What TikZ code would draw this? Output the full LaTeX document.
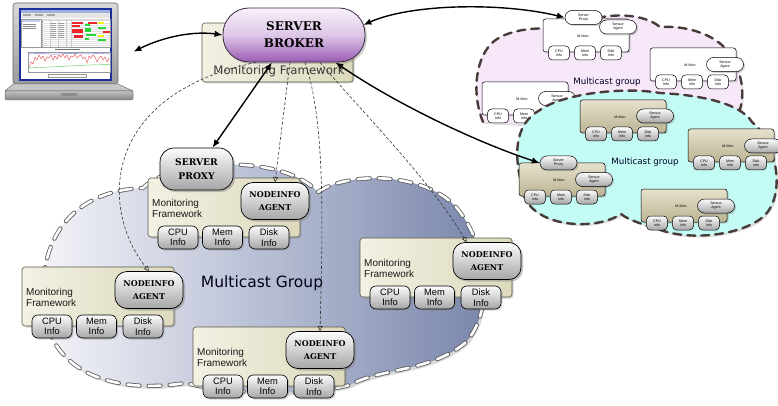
\documentclass[tikz,border=0pt]{standalone}
\usepackage{fontspec}
\setmainfont{Liberation Sans}
\newfontfamily\headfont{DejaVu Serif}
\newfontfamily\roundfont{DejaVu Sans}
\usetikzlibrary{arrows.meta,shadows,calc}

% palette
\definecolor{frameLine}{HTML}{5C5A48}
\definecolor{frameA}{HTML}{F2F1E3}
\definecolor{frameB}{HTML}{DCD9BC}
\definecolor{pillTop}{HTML}{FCFCFC}
\definecolor{pillBot}{HTML}{A6A6A6}
\definecolor{brokerTop}{HTML}{F8F1FA}
\definecolor{brokerMid}{HTML}{DDC6E7}
\definecolor{brokerBot}{HTML}{9A5CB2}
\definecolor{brokerLine}{HTML}{3A2A40}
\definecolor{cloudL}{HTML}{F4F4F8}
\definecolor{cloudM}{HTML}{B7BED4}
\definecolor{cloudR}{HTML}{7885AA}
\definecolor{cloudEdge}{HTML}{5E5E5E}
\definecolor{lav}{HTML}{F6E8F9}
\definecolor{aqua}{HTML}{C3FBF5}
\definecolor{groupDash}{HTML}{4A3B3B}
\definecolor{smTop}{HTML}{E6E1CB}
\definecolor{smBot}{HTML}{BBB494}
\definecolor{lidTop}{HTML}{D8D8D8}
\definecolor{lidBot}{HTML}{9A9A9A}
\definecolor{screenBlue}{HTML}{1D2F9E}
\definecolor{titleBlue}{HTML}{9DB0E0}
\definecolor{cellRed}{HTML}{E8262A}
\definecolor{cellGreen}{HTML}{27D83A}
\definecolor{cellYellow}{HTML}{F3F31A}
\definecolor{plotBlue}{HTML}{6A7CE0}
\definecolor{plotRed}{HTML}{E86060}
\definecolor{plotGreen}{HTML}{5CCB5C}

\tikzset{
  softshadow/.style={drop shadow={opacity=.35, shadow xshift=1.5pt, shadow yshift=-1.5pt}},
  % main monitoring groups
  mframe/.style={rectangle, draw=frameLine, line width=.6pt, rounded corners=3pt,
    minimum width=152pt, minimum height=59pt, inner sep=0,
    left color=frameA, right color=frameB, softshadow},
  mlabel/.style={font=\fontsize{10}{11}\selectfont, align=left, inner sep=0, text=black!90},
  magent/.style={rectangle, draw=black, line width=.7pt, rounded corners=12pt,
    minimum width=68pt, minimum height=37pt, inner sep=0,
    top color=pillTop, bottom color=pillBot, align=center,
    font=\headfont\bfseries\fontsize{8}{12.5}\selectfont,
    drop shadow={opacity=.45, shadow xshift=2pt, shadow yshift=-2pt}},
  minfo/.style={rectangle, draw=black, line width=.6pt, rounded corners=6pt,
    minimum width=40pt, minimum height=23pt, inner sep=0,
    top color=pillTop, bottom color=pillBot, align=center,
    font=\fontsize{9.3}{10.5}\selectfont, softshadow},
  proxy/.style={magent, rounded corners=14pt, minimum width=73pt, minimum height=42pt,
    font=\headfont\bfseries\fontsize{9.2}{14}\selectfont},
  broker/.style={rectangle, draw=brokerLine, line width=.8pt, rounded corners=26pt,
    minimum width=142pt, minimum height=54pt, inner sep=0,
    top color=brokerTop, bottom color=brokerBot, middle color=brokerMid,
    align=center, font=\headfont\bfseries\fontsize{12}{17}\selectfont,
    drop shadow={opacity=.4, shadow xshift=2pt, shadow yshift=-2pt}},
  % small monitoring groups
  sbase/.style={rectangle, draw=black, line width=.5pt, inner sep=0},
  tiny/.style={font=\fontsize{3.6}{4.2}\selectfont, align=center},
  wframe/.style={sbase, rounded corners=2.5pt, minimum width=86pt, minimum height=33pt, fill=white, softshadow},
  gframe/.style={sbase, rounded corners=2.5pt, minimum width=86pt, minimum height=33pt, top color=smTop, bottom color=smBot, softshadow},
  wpill/.style={sbase, rounded corners=7pt, minimum width=37pt, minimum height=14pt, fill=white, tiny, softshadow},
  gpill/.style={sbase, rounded corners=7pt, minimum width=37pt, minimum height=14pt, top color=pillTop, bottom color=pillBot, tiny, softshadow},
  winfo/.style={sbase, rounded corners=4pt, minimum width=21pt, minimum height=14pt, fill=white, tiny},
  ginfo/.style={sbase, rounded corners=4pt, minimum width=21pt, minimum height=14pt, top color=pillTop, bottom color=pillBot, tiny},
  % connectors
  thickarrow/.style={draw=black, line width=1.4pt,
    {Latex[length=8pt,width=6.5pt]}-{Latex[length=8pt,width=6.5pt]}},
  dashlink/.style={draw=black!80, line width=.6pt, dash pattern=on 3pt off 2pt,
    -{Triangle[open,length=5pt,width=5pt]}},
  groupline/.style={draw=groupDash, line width=2.4pt, dash pattern=on 8pt off 6pt, line cap=round},
}

% a monitoring framework with its agent and probes; #1 name, #2/#3 top-left corner
\newcommand{\mongroup}[3]{%
  \begin{scope}[shift={(#2,#3)}]
    \node[mframe] (#1-frame) at (76,29.5) {};
    \node[mlabel, anchor=west] (#1-label) at (4,30.5) {Monitoring\\Framework};
    \node[magent] (#1-agent) at (127,23) {NODEINFO\\AGENT};
    \node[minfo] (#1-cpu) at (30,59.5) {CPU\\Info};
    \node[minfo] (#1-mem) at (74.5,59.5) {Mem\\Info};
    \node[minfo] (#1-disk) at (121,59.5) {Disk\\Info};
  \end{scope}}

% a small monitor; #1 name, #2/#3 top-left, #4 agent offset, #5 look (w or g)
\newcommand{\smallgroup}[5]{%
  \begin{scope}[shift={(#2,#3)}]
    \node[#5frame] (#1-frame) at (43,16.5) {};
    \node[tiny] (#1-label) at (40,17) {M-Mon};
    \node[#5pill] (#1-agent) at (75,#4) {Sensor\\Agent};
    \node[#5info] (#1-cpu) at (16,34) {CPU\\Info};
    \node[#5info] (#1-mem) at (42,34) {Mem\\Info};
    \node[#5info] (#1-disk) at (68,34) {Disk\\Info};
  \end{scope}}

\begin{document}
\begin{tikzpicture}[x=1pt,y=-1pt]
\useasboundingbox (0,0) rectangle (778,406);

% ---------------- laptop ----------------
\node[inner sep=0, minimum width=128pt, minimum height=97pt, anchor=north west] (laptop) at (5,3) {};
\draw[draw=black!60, line width=.6pt, top color=lidTop, bottom color=lidBot, rounded corners=3pt] (13,3) rectangle (118,84);
\fill[screenBlue] (19,8) rectangle (112,81);
\fill[white] (21,10) rectangle (110,79);
\fill[titleBlue] (21,10) rectangle (110,13);
\fill[black!10] (21,13) rectangle (110,18);
\foreach \xx in {23,35,47} \fill[black!35] (\xx,14.5) rectangle ++(8,1.2);
% tree panel
\draw[black!40, line width=.3pt] (21,19) rectangle (41,47);
\fill[titleBlue!60] (22,20) rectangle (40,22);
\foreach \yy in {24.5,26.5,28.5} \draw[black!45, line width=.35pt] (23,\yy) -- (36,\yy);
% table
\draw[black!40, line width=.3pt] (42,19) rectangle (110,47);
\fill[black!15] (42,19) rectangle (110,21.5);
\foreach \yy in {23.5,25.5,...,45.5} \draw[black!12, line width=.25pt] (42,\yy) -- (110,\yy);
\foreach \xx in {50,58,66,71} \draw[black!20, line width=.25pt] (\xx,19) -- (\xx,47);
\foreach \yy in {23,25,27,29,31,33,35,37} \draw[black!40, line width=.3pt] (51,\yy) -- (56,\yy) (59,\yy) -- (64,\yy);
\fill[cellRed] (72,22) rectangle (83,24);
\fill[cellRed] (72,25) rectangle (80,27);
\fill[cellRed] (72,29) rectangle (83,33);
\fill[cellRed] (74,35) rectangle (83,38);
\fill[cellGreen] (85,24) rectangle (90,26);
\fill[cellRed] (88,22) rectangle (97,24);
\fill[cellGreen] (85,28) rectangle (91,32);
\fill[cellGreen] (86,34) rectangle (96,36);
\fill[cellGreen] (85,38) rectangle (89,40);
\fill[cellYellow] (98,22) rectangle (104,24);
\fill[cellGreen] (98,27) rectangle (106,29);
\fill[cellRed] (103,31) rectangle (110,33);
\fill[cellYellow] (98,35) rectangle (104,37);
\fill[cellGreen] (98,39) rectangle (106,41);
% chart
\draw[black!55, line width=.4pt] (55,49.5) -- (80,49.5);
\draw[black!40, line width=.3pt] (28,52) rectangle (110,72);
\draw[plotBlue, line width=.45pt] (28,54) -- (40,53.5) -- (55,54.2) -- (70,53.4) -- (85,54) -- (100,53.5) -- (110,54);
\draw[plotRed, line width=.45pt] (29,68) -- (31,62) -- (33,64) -- (35,57) -- (37,60) -- (39,55) -- (41,59) -- (43,56) -- (45,61)
  -- (47,57) -- (49,58) -- (51,55) -- (53,60) -- (55,56) -- (57,59) -- (59,55) -- (61,57) -- (63,54) -- (65,58)
  -- (67,55) -- (69,60) -- (71,56) -- (73,57) -- (75,54) -- (77,58) -- (79,56) -- (81,55) -- (83,59) -- (85,57)
  -- (87,63) -- (89,56) -- (91,58) -- (93,55) -- (95,57) -- (97,62) -- (99,58) -- (101,56) -- (103,60) -- (105,57)
  -- (107,62) -- (109,58);
\draw[plotGreen, line width=.45pt] (28,68) -- (50,67) -- (70,66) -- (90,65) -- (110,64.5);
\draw[black!40, line width=.3pt] (48,74.5) rectangle (86,77.5);
% base
\draw[draw=black!55, line width=.5pt, fill=black!22] (13,84) -- (118,84) -- (133,91) -- (5,91) -- cycle;
\draw[draw=black!55, line width=.5pt, top color=black!25, bottom color=black!48, rounded corners=2pt] (5,91) rectangle (133,100);
\fill[black!45] (61,93.5) rectangle (77,96.5);

% ---------------- main multicast group ----------------
\path[drop shadow={opacity=.3, shadow xshift=2pt, shadow yshift=-3pt},
  left color=cloudL, right color=cloudR, middle color=cloudM,
  postaction={draw=cloudEdge, line width=4.2pt, dash pattern=on 12pt off 9pt, line cap=round},
  postaction={draw=white, line width=2.6pt, dash pattern=on 12pt off 9pt, line cap=round}]
  (43,300) .. controls (40,225) and (85,190) .. (143,188)
  .. controls (170,160) and (280,152) .. (318,192)
  .. controls (350,170) and (435,172) .. (462,215)
  .. controls (490,255) and (492,315) .. (465,343)
  .. controls (430,372) and (380,368) .. (350,385)
  .. controls (300,398) and (220,392) .. (185,383)
  .. controls (110,395) and (45,370) .. (43,300) -- cycle;
\node[font=\roundfont\fontsize{15.5}{18}\selectfont, text=black!90!blue] (mclabel) at (262,283) {Multicast Group};

\mongroup{B}{22}{267}
\mongroup{C}{360}{238}
\mongroup{D}{193}{327}
\mongroup{A}{148}{178}
\node[proxy] (proxy) at (196.5,169) {SERVER\\PROXY};

% ---------------- server broker ----------------
\node[mframe, minimum width=151pt] (bframe) at (277.5,52.5) {};
\node[font=\roundfont\fontsize{11.7}{14}\selectfont, text=black!78] (blabel) at (279,71) {Monitoring Framework};
\node[broker] (broker) at (294,35) {SERVER\\BROKER};

% ---------------- remote multicast groups ----------------
\fill[lav, drop shadow={opacity=.25, shadow xshift=1.5pt, shadow yshift=-2pt}]
  (483,122) .. controls (472,95) and (475,62) .. (490,45)
  .. controls (505,28) and (545,25) .. (568,32)
  .. controls (590,12) and (640,10) .. (660,27)
  .. controls (695,25) and (725,40) .. (733,60)
  .. controls (745,80) and (745,105) .. (735,120) -- (540,125) -- cycle;
\draw[groupline]
  (483,122) .. controls (472,95) and (475,62) .. (490,45)
  .. controls (505,28) and (545,25) .. (568,32)
  .. controls (590,12) and (640,10) .. (660,27)
  .. controls (695,25) and (725,40) .. (733,60)
  .. controls (745,80) and (745,105) .. (735,120);
\node[font=\roundfont\fontsize{8.7}{10}\selectfont, text=black!85!blue] (uplabel) at (607,82) {Multicast group};

\smallgroup{U1}{543}{19}{8}{w}
\smallgroup{U2}{650}{48}{16.5}{w}
\smallgroup{U3}{482}{82}{16.5}{w}
\node[wpill] (U1-proxy) at (583.5,17.5) {Server\\Proxy};

\path[fill=aqua, drop shadow={opacity=.25, shadow xshift=1.5pt, shadow yshift=-2pt},
  postaction={groupline}]
  (520,178) .. controls (512,140) and (522,120) .. (540,110)
  .. controls (560,95) and (620,86) .. (660,93)
  .. controls (700,95) and (740,103) .. (752,122)
  .. controls (775,140) and (787,192) .. (765,215)
  .. controls (745,235) and (690,242) .. (658,229)
  .. controls (645,225) and (628,220) .. (621,214)
  .. controls (600,228) and (560,227) .. (540,214)
  .. controls (525,205) and (521,192) .. (520,178) -- cycle;
\node[font=\roundfont\fontsize{8.7}{10}\selectfont, text=black!85!blue] (lowlabel) at (645,162) {Multicast group};

\smallgroup{L1}{580}{100}{16}{g}
\smallgroup{L2}{688}{129}{17}{g}
\smallgroup{L4}{641}{189}{17}{g}
\smallgroup{L3}{519}{163}{16.5}{g}
\node[gpill] (L3-proxy) at (558.5,163) {Server\\Proxy};

% ---------------- connectors ----------------
\draw[dashlink] ($(broker.south)+(-38,0)$) .. controls (100,95) and (100,210) .. (B-agent.north);
\draw[dashlink] ($(broker.south)+(-4,0)$) -- (A-agent.north);
\draw[dashlink] ($(broker.south)+(11,0)$) .. controls (325,120) and (323,220) .. (D-agent.north);
\draw[dashlink] ($(broker.south)+(26,0)$) .. controls (365,115) and (430,180) .. ($(C-agent.north west)+(14,0)$);

\draw[thickarrow] (laptop.east) .. controls (165,36) and (195,31) .. (broker.west);
\draw[thickarrow] ($(broker.south)+(-22,0)$) -- ($(proxy.north)+(16,0)$);
\draw[thickarrow] ($(broker.east)+(-2,-10)$) .. controls (410,4) and (500,2) .. (U1-proxy.west);
\draw[thickarrow] ($(broker.south east)+(-30,0)$) .. controls (390,100) and (470,140) .. (L3-proxy.west);
\end{tikzpicture}
\end{document}
